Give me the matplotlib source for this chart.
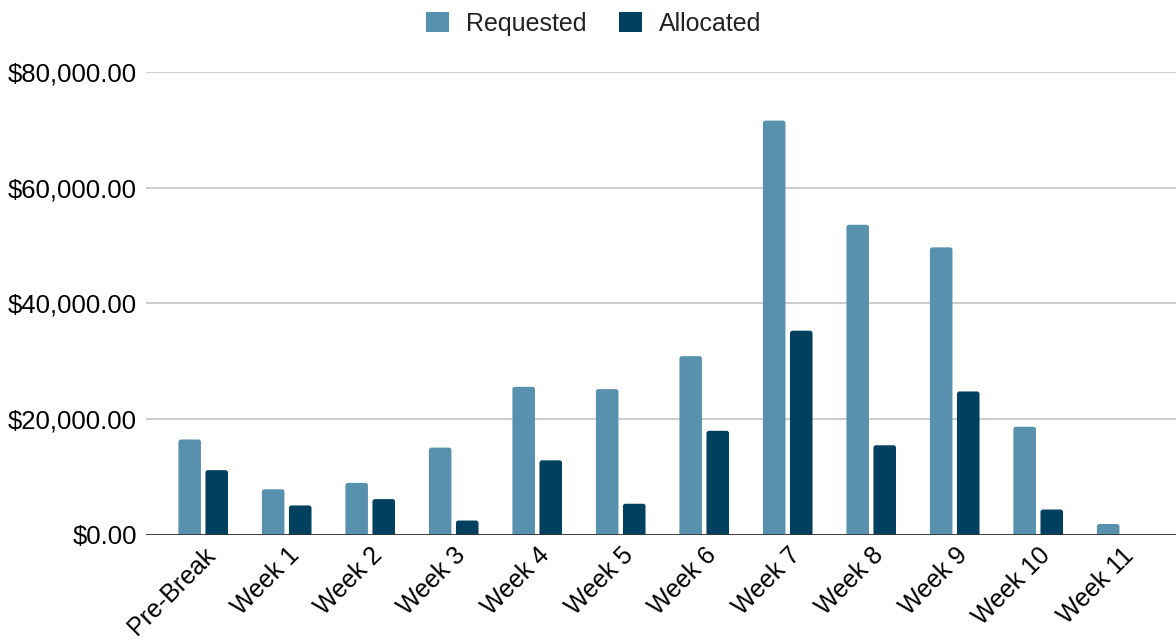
import matplotlib
matplotlib.use("Agg")
import matplotlib.pyplot as plt
import numpy as np
from matplotlib.ticker import FuncFormatter
from matplotlib.patches import FancyBboxPatch, Patch

categories = ["Pre-Break", "Week 1", "Week 2", "Week 3", "Week 4", "Week 5",
              "Week 6", "Week 7", "Week 8", "Week 9", "Week 10", "Week 11"]
requested = [16500, 7900, 9000, 15100, 25600, 25200, 30900, 71600, 53600, 49700, 18700, 1900]
allocated = [11200, 5100, 6200, 2500, 12900, 5400, 18000, 35300, 15500, 24800, 4400, 0]
yticks = [0, 20000, 40000, 60000, 80000]

c_req = "#5891ad"
c_all = "#02405f"

plt.rcParams['font.family'] = ['Liberation Sans', 'DejaVu Sans']

fig = plt.figure(figsize=(11.76, 6.41), dpi=100)
ax = fig.add_axes([0.1245, 0.1654, 0.8755, 0.7223])

x = np.arange(len(categories))
w = 0.27
off = 0.162
xlim = (-0.68, len(categories) - 1 + 0.65)
ylim = (0, 80000)
ax.set_xlim(*xlim)
ax.set_ylim(*ylim)

bars_r = ax.bar(x - off, requested, w, color=c_req, zorder=3)
bars_a = ax.bar(x + off, allocated, w, color=c_all, zorder=3)

# round the top corners of each bar
bbox = ax.get_position()
ax_w_px = bbox.width * fig.get_figwidth() * fig.dpi
ax_h_px = bbox.height * fig.get_figheight() * fig.dpi
xpp = (xlim[1] - xlim[0]) / ax_w_px
ypp = (ylim[1] - ylim[0]) / ax_h_px
r_px = 2.5
for bars in (bars_r, bars_a):
    for rect in bars:
        h = rect.get_height()
        rect.set_visible(False)
        if h <= 0:
            continue
        ext = r_px * 2 * ypp
        p = FancyBboxPatch((rect.get_x(), rect.get_y() - ext), rect.get_width(), h + ext,
                           boxstyle=f"round,pad=0,rounding_size={r_px * xpp}",
                           mutation_aspect=ypp / xpp,
                           facecolor=rect.get_facecolor(), edgecolor="none", zorder=3)
        ax.add_patch(p)

ax.set_yticks(yticks)
ax.yaxis.set_major_formatter(FuncFormatter(lambda v, p: f"${v:,.2f}"))
ax.grid(axis="y", color="#cccccc", linewidth=1.4, zorder=0)
ax.axhline(0, color="#333333", linewidth=2, zorder=4)
for s in ax.spines.values():
    s.set_visible(False)
ax.tick_params(axis="y", length=0, labelsize=18.5, colors="#000000", pad=7)
ax.set_xticks(x)
ax.set_xticklabels(categories, rotation=45, ha="right", rotation_mode="anchor")
ax.tick_params(axis="x", length=0, labelsize=18, colors="#000000", pad=6)

handles = [Patch(facecolor=c_req, edgecolor="none"), Patch(facecolor=c_all, edgecolor="none")]
leg = fig.legend(handles=handles, labels=["Requested", "Allocated"],
                 loc="upper center", bbox_to_anchor=(0.505, 1.017), ncol=2, frameon=False,
                 fontsize=18, handlelength=0.9, handleheight=0.9, columnspacing=1.3,
                 handletextpad=0.7)
for t in leg.get_texts():
    t.set_color("#222222")

fig.savefig("out.png", dpi=100)
